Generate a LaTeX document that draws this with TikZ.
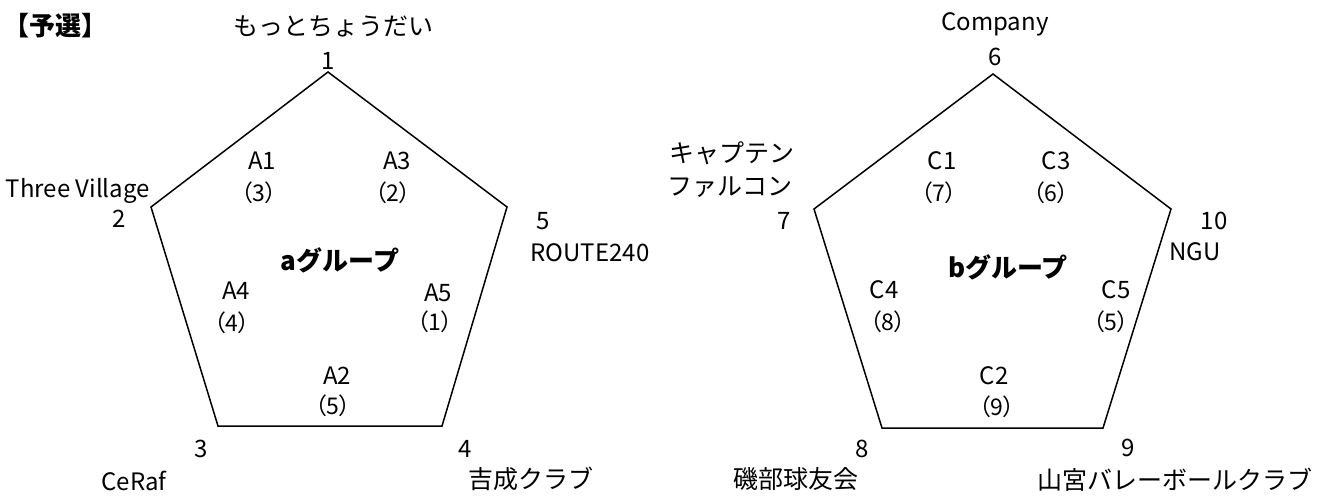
\documentclass[tikz,border=0pt]{standalone}
\usepackage{fontspec}
\setmainfont{Noto Sans CJK JP}
\newfontfamily\parenfont[RawFeature=+palt]{Noto Sans CJK JP}
\tikzset{
  lbl/.style={inner sep=0pt, font=\fontsize{24}{28}\selectfont},
  jlbl/.style={inner sep=0pt, font=\fontsize{25}{29}\selectfont},
  grp/.style={inner sep=0pt, font=\fontsize{26}{30}\selectfont\bfseries},
  ttl/.style={inner sep=0pt, font=\fontsize{26}{30}\selectfont\bfseries},
  rk/.style={inner sep=0pt, font=\parenfont\fontsize{23}{27}\selectfont},
  edge/.style={line width=1.5pt, line join=miter}
}
\begin{document}
\begin{tikzpicture}[x=1pt,y=-1pt]
\useasboundingbox (0,0) rectangle (1341,498);

\node[ttl] (title) at (55,26) {【予選】};

% a group
\coordinate (v1) at (328,72);
\coordinate (v2) at (151,207);
\coordinate (v3) at (218,426);
\coordinate (v4) at (442,426);
\coordinate (v5) at (507,207);
\draw[edge] (v1) -- (v2) -- (v3) -- (v4) -- (v5) -- cycle;

\node[jlbl] (t1) at (333,26) {もっとちょうだい};
\node[lbl] (n1) at (328,61) {1};
\node[lbl, anchor=east] (t2) at (150,191) {Three Village};
\node[lbl] (n2) at (119,219) {2};
\node[lbl] (n5) at (543,221) {5};
\node[lbl] (t5) at (590,253) {ROUTE240};
\node[lbl] (n3) at (201,449) {3};
\node[lbl] (t3) at (134,481) {CeRaf};
\node[lbl] (n4) at (465,449) {4};
\node[jlbl] (t4) at (531,479) {吉成クラブ};

\node[grp] (ga) at (340,260) {aグループ};
\node[lbl] (a1) at (262,161) {A1};
\node[rk] (a1r) at (259,193) {（3）};
\node[lbl] (a3) at (397,161) {A3};
\node[rk] (a3r) at (393,193) {（2）};
\node[lbl] (a4) at (236,291) {A4};
\node[rk] (a4r) at (232,323) {（4）};
\node[lbl] (a5) at (438,293) {A5};
\node[rk] (a5r) at (435,322) {（1）};
\node[lbl] (a2) at (337,376) {A2};
\node[rk] (a2r) at (333,406) {（5）};

% b group
\coordinate (v6) at (993,74);
\coordinate (v7) at (814,209);
\coordinate (v8) at (882,428);
\coordinate (v9) at (1103,428);
\coordinate (v10) at (1171,209);
\draw[edge] (v6) -- (v7) -- (v8) -- (v9) -- (v10) -- cycle;

\node[lbl] (t6) at (995,24) {Company};
\node[lbl] (n6) at (995,57) {6};
\node[jlbl] (t7a) at (732,153) {キャプテン};
\node[jlbl] (t7b) at (730,187) {ファルコン};
\node[lbl] (n7) at (784,221) {7};
\node[lbl] (n10) at (1214,221) {10};
\node[lbl] (t10) at (1195,252) {NGU};
\node[lbl] (n8) at (862,449) {8};
\node[jlbl] (t8) at (796,479) {磯部球友会};
\node[lbl] (n9) at (1128,448) {9};
\node[jlbl] (t9) at (1175,480) {山宮バレーボールクラブ};

\node[grp] (gb) at (1008,267) {bグループ};
\node[lbl] (c1) at (942,161) {C1};
\node[rk] (c1r) at (939,193) {（7）};
\node[lbl] (c3) at (1056,161) {C3};
\node[rk] (c3r) at (1051,193) {（6）};
\node[lbl] (c4) at (884,290) {C4};
\node[rk] (c4r) at (888,322) {（8）};
\node[lbl] (c5) at (1116,290) {C5};
\node[rk] (c5r) at (1111,322) {（5）};
\node[lbl] (c2) at (994,376) {C2};
\node[rk] (c2r) at (997,407) {（9）};
\end{tikzpicture}
\end{document}
